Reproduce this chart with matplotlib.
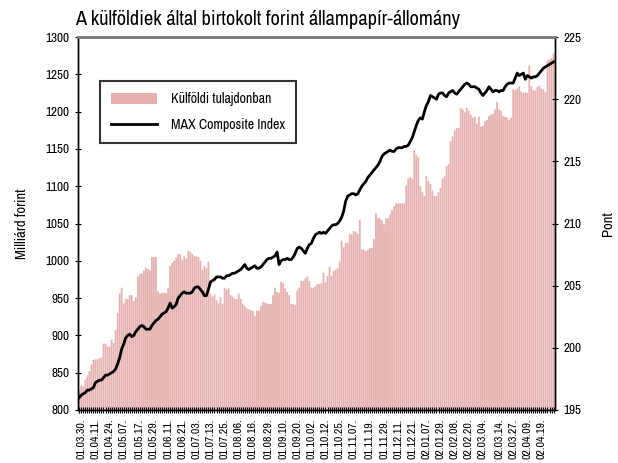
import matplotlib.pyplot as plt
import numpy as np

# Külföldi tulajdonban (Mrd Ft), napi adatok
foreign = [
    826, 833, 832, 841, 845, 852, 861, 867, 868, 868,
    870, 870, 889, 889, 885, 885, 894, 890, 907, 930,
    956, 964, 943, 949, 949, 954, 954, 946, 951, 979,
    982, 983, 987, 991, 989, 987, 1005, 1005, 1005, 959,
    956, 957, 957, 957, 964, 993, 997, 1000, 1004, 1009,
    1009, 1001, 1006, 1003, 1013, 1012, 1009, 1006, 1006, 1005,
    1000, 988, 993, 990, 999, 956, 952, 955, 947, 943,
    951, 942, 964, 961, 963, 954, 952, 949, 949, 956,
    949, 942, 939, 936, 935, 934, 933, 926, 933, 933,
    939, 945, 944, 943, 942, 942, 954, 964, 958, 957,
    972, 970, 963, 958, 954, 942, 942,
    941, 960, 964, 973, 973, 976, 979, 973, 964, 964,
    966, 969, 969, 970, 984, 971, 980, 992, 980, 986,
    988, 990, 999, 1027, 1018, 1024, 1024, 1036, 1035, 1040,
    1039, 1036, 1055, 1015, 1015, 1013, 1015, 1017, 1017, 1029,
    1064, 1057, 1057, 1054, 1049, 1057, 1057, 1062, 1068, 1073,
    1077, 1077, 1077, 1077, 1077, 1101, 1110, 1112, 1110, 1148,
    1142, 1139, 1100, 1092, 1087, 1114, 1107, 1103, 1094, 1087,
    1087, 1092, 1098, 1110, 1113, 1127, 1130, 1160, 1167, 1175,
    1178, 1178, 1205, 1203, 1199, 1205, 1201, 1196, 1192, 1193,
    1184, 1193, 1180, 1181, 1187, 1189, 1194, 1196, 1197, 1203,
    1213, 1203, 1201, 1194, 1193, 1192, 1189, 1192, 1230, 1229,
    1231, 1234, 1227, 1225, 1226, 1225, 1262, 1234, 1229, 1228,
    1233, 1235, 1231, 1230, 1226, 1269, 1270, 1272, 1278,
]

# MAX Composite Index (pont)
max_index = [
    196.0, 196.2, 196.3, 196.4, 196.6, 196.6, 196.7, 196.8, 197.2, 197.3,
    197.4, 197.4, 197.6, 197.8, 197.8, 197.9, 198.0, 198.1, 198.3, 198.7,
    199.2, 199.9, 200.3, 200.8, 201.0, 201.1, 200.9, 201.0, 201.3, 201.5,
    201.7, 201.8, 201.7, 201.5, 201.5, 201.5, 201.8, 202.0, 202.2, 202.3,
    202.5, 202.7, 202.8, 202.9, 203.2, 203.6, 203.2, 203.3, 203.5, 204.0,
    204.2, 204.4, 204.5, 204.4, 204.4, 204.4, 204.5, 204.8, 204.9, 204.9,
    204.7, 204.5, 204.2, 204.2, 204.7, 205.3, 205.4, 205.5, 205.7, 205.7,
    205.7, 205.6, 205.6, 205.8, 205.8, 205.9, 206.0, 206.0, 206.1, 206.2,
    206.3, 206.5, 206.7, 206.4, 206.3, 206.4, 206.5, 206.6, 206.4, 206.4,
    206.5, 206.7, 206.9, 207.1, 207.2, 207.2, 207.3, 207.4, 207.7, 206.7,
    207.0, 207.1, 207.1, 207.2, 207.1, 207.1, 207.3, 207.6, 208.0, 208.1,
    208.0, 207.8, 207.6, 208.0, 208.3, 208.4, 208.8, 209.1, 209.2, 209.3,
    209.2, 209.3, 209.2, 209.4, 209.6, 209.8, 209.9, 209.9, 210.0, 210.2,
    210.5, 211.0, 211.8, 212.2, 212.3, 212.4, 212.4, 212.3, 212.4, 212.7,
    213.0, 213.2, 213.4, 213.7, 213.9, 214.1, 214.3, 214.5, 214.7, 215.0,
    215.4, 215.6, 215.7, 215.8, 215.9, 215.8, 215.8, 216.0, 216.1, 216.1,
    216.1, 216.2, 216.2, 216.3, 216.6, 216.9, 217.4, 217.9, 218.3, 218.5,
    218.4, 219.0, 219.5, 219.8, 220.3, 220.2, 220.1, 220.0, 220.4, 220.5,
    220.5, 220.3, 220.2, 220.5, 220.6, 220.7, 220.5, 220.4, 220.6, 220.8,
    221.0, 221.2, 221.3, 221.2, 221.0, 221.0, 221.0, 220.9, 220.8, 220.5,
    220.3, 220.5, 220.7, 221.0, 220.8, 220.6, 220.7, 220.7, 220.6, 220.7,
    220.7, 221.0, 221.2, 221.3, 221.3, 221.3, 221.7, 222.1, 221.9, 222.0,
    222.1, 221.6, 221.9, 221.8, 221.7, 221.8, 221.8, 221.9, 222.1, 222.3,
    222.5, 222.6, 222.7, 222.8, 222.9, 223.0,
]

date_labels = [
    '01.03.30.', '01.04.11.', '01.04.24.', '01.05.07.', '01.05.17.', '01.05.29.',
    '01.06.11.', '01.06.21.', '01.07.03.', '01.07.13.', '01.07.25.', '01.08.06.',
    '01.08.16.', '01.08.29.', '01.09.10.', '01.09.20.', '01.10.02.', '01.10.12.',
    '01.10.25.', '01.11.07.', '01.11.19.', '01.11.29.', '01.12.11.', '01.12.21.',
    '02.01.07.', '02.01.29.', '02.02.08.', '02.02.20.', '02.03.04.', '02.03.14.',
    '02.03.27.', '02.04.09.', '02.04.19.',
]

plt.rcParams['font.family'] = ['Archivo Narrow', 'DejaVu Sans']

fig = plt.figure(figsize=(6.18, 4.63), dpi=100)
ax = fig.add_axes([0.126, 0.1145, 0.772, 0.8055])

x = np.arange(len(foreign))
bars = ax.bar(x, foreign, width=0.88, color='#E5B0B0', linewidth=0, snap=False,
              label='Külföldi tulajdonban')
ax.set_ylim(800, 1300)
ax.set_yticks(np.arange(800, 1301, 50))
ax.set_xlim(-0.7, len(x) - 0.3)

tick_pos = np.round(np.linspace(1, 229, len(date_labels))).astype(int)
ax.set_xticks(tick_pos)
ax.set_xticklabels(date_labels, rotation=90, fontsize=8.5)
ax.set_xticks(x, minor=True)
ax.tick_params(axis='x', which='both', direction='inout', length=4, width=0.8, pad=4)
ax.tick_params(axis='y', direction='inout', length=5, labelsize=9.5)
ax.set_ylabel('Milliárd forint', fontsize=10.5, labelpad=12)

ax2 = ax.twinx()
line, = ax2.plot(x, max_index, color='black', lw=2, label='MAX Composite Index')
ax2.set_ylim(195, 225)
ax2.set_yticks(np.arange(195, 226, 5))
ax2.tick_params(axis='y', direction='inout', length=5, labelsize=9.5)
ax2.set_ylabel('Pont', fontsize=10.5, labelpad=14)

for a in (ax, ax2):
    a.spines['top'].set_color('#808080')
    a.spines['top'].set_linewidth(2)
    for s in ('left', 'right', 'bottom'):
        a.spines[s].set_linewidth(1)

leg = ax2.legend([bars, line], ['Külföldi tulajdonban', 'MAX Composite Index'],
                 loc='upper left', bbox_to_anchor=(0.046, 0.882),
                 fontsize=10, frameon=True, fancybox=False, edgecolor='black',
                 handlelength=3.3, handleheight=0.9, handletextpad=1.0,
                 labelspacing=0.85, borderpad=0.8, borderaxespad=0)
leg.get_frame().set_linewidth(1.5)

fig.text(0.122, 0.945, 'A külföldiek által birtokolt forint állampapír-állomány', fontsize=14.7)

fig.savefig('out.png', dpi=100)
